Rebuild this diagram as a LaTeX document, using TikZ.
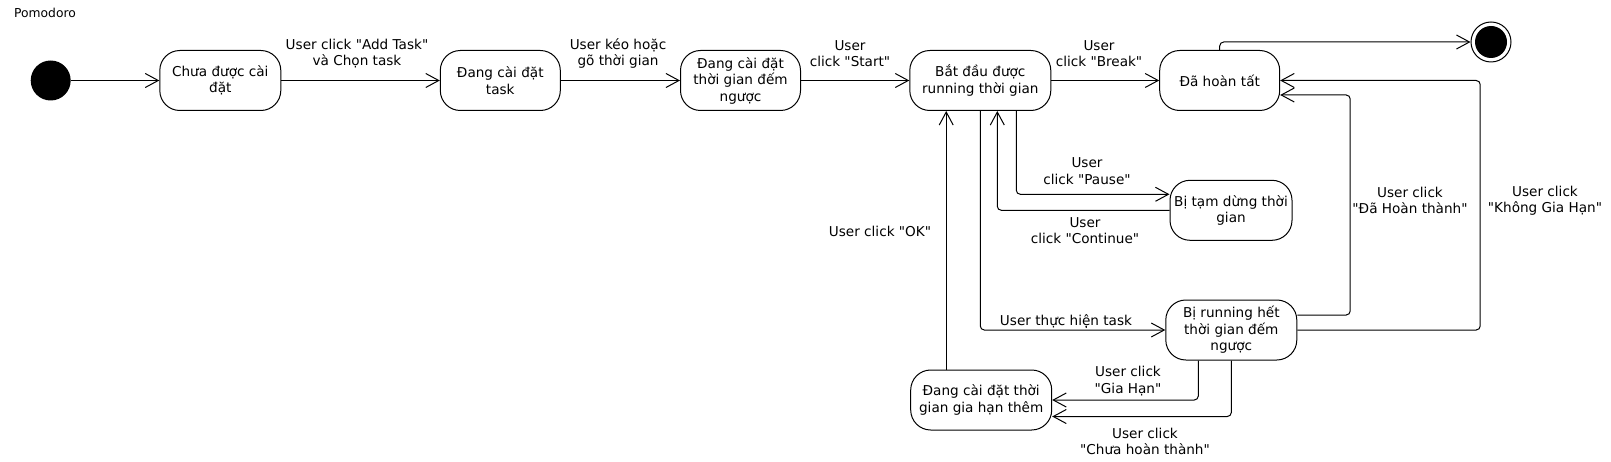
\documentclass[tikz,border=0pt]{standalone}
\usepackage{fontspec}
\setmainfont{DejaVu Sans}[Ligatures=TeXOff]
\usepackage{tikz}
\usetikzlibrary{arrows.meta, calc}

\tikzset{
  stbox/.style={draw, line width=1pt, rounded corners=20pt, minimum height=60pt, minimum width=120pt,
    inner sep=0pt, align=center, font=\fontsize{13.6}{16.5}\selectfont},
  lbl/.style={align=center, inner sep=0pt, font=\fontsize{13.6}{16.5}\selectfont},
  trn/.style={line width=1pt, rounded corners=4pt, -{Straight Barb[length=13pt,width=14pt]}},
}

\begin{document}
\begin{tikzpicture}[x=1pt, y=-1pt]
  \useasboundingbox (0,0) rectangle (1611,462);
  \node[anchor=west, inner sep=0pt, font=\fontsize{12.3}{14}\selectfont] (title) at (14,12.5) {Pomodoro};
  % start / end
  \node[circle, fill=black, minimum size=40pt, inner sep=0pt] (init) at (50.7,80.5) {};
  \node[circle, draw, line width=1pt, minimum size=40pt, inner sep=0pt] (fin) at (1491,42) {};
  \fill (fin.center) circle (16pt);
  % states
  \node[stbox, minimum width=121pt] (chua) at (220.3,80.5) {Chưa được cài\\đặt};
  \node[stbox] (task) at (500.3,80.5) {Đang cài đặt\\task};
  \node[stbox] (dem) at (740.5,80.5) {Đang cài đặt\\thời gian đếm\\ngược};
  \node[stbox, minimum width=141pt] (run) at (980.3,80.5) {Bắt đầu được\\running thời gian};
  \node[stbox] (xong) at (1219.7,80.5) {Đã hoàn tất};
  \node[stbox, minimum width=122pt] (dung) at (1231,210.3) {Bị tạm dừng thời\\gian};
  \node[stbox, minimum width=131pt] (het) at (1231.3,330) {Bị running hết\\thời gian đếm\\ngược};
  \node[stbox, minimum width=141pt] (giahan) at (981.2,400) {Đang cài đặt thời\\gian gia hạn thêm};
  % main row
  \draw[trn] (init) -- (chua);
  \draw[trn] (chua) -- (task);
  \draw[trn] (task) -- (dem);
  \draw[trn] (dem) -- (run);
  \draw[trn] (run) -- (xong);
  \draw[trn] (xong.north) |- (fin);
  % pause / continue
  \draw[trn] ([xshift=36pt]run.south) |- ([yshift=16pt]dung.west);
  \draw[trn] (dung.west) -| ([xshift=17pt]run.south);
  % countdown
  \draw[trn] (run.south) |- (het.west);
  \draw[trn] ([xshift=-35pt]giahan.north) -- ([xshift=-35pt]giahan.north |- run.south);
  \draw[trn] ([xshift=-33pt]het.south) |- (giahan.east);
  \draw[trn] (het.south) |- ([yshift=-16.5pt]giahan.east);
  \draw[trn] ([yshift=15pt]het.east) -| ([xshift=70pt,yshift=-14.5pt]xong.east) -- ([yshift=-14.5pt]xong.east);
  \draw[trn] (het.east) -| ([xshift=200pt]xong.east) -- (xong.east);
  % labels
  \node[lbl] (lAdd) at (357,53.5) {User click "Add Task"\\và Chọn task};
  \node[lbl] (lTime) at (618,53.5) {User kéo hoặc\\gõ thời gian};
  \node[lbl] (lStart) at (850,53.5) {User\\click "Start"};
  \node[lbl] (lBreak) at (1099,53.5) {User\\click "Break"};
  \node[lbl] (lPause) at (1087,171) {User\\click "Pause"};
  \node[lbl] (lCont) at (1085,230.5) {User\\click "Continue"};
  \node[lbl] (lDo) at (1066,321.7) {User thực hiện task};
  \node[lbl] (lOK) at (880,231) {User click "OK"};
  \node[lbl] (lExt) at (1128,381.3) {User click\\"Gia Hạn"};
  \node[lbl] (lNot) at (1145,441.3) {User click\\"Chưa hoàn thành"};
  \node[lbl] (lDone) at (1410,200.5) {User click\\"Đã Hoàn thành"};
  \node[lbl] (lNoExt) at (1545,200.5) {User click\\"Không Gia Hạn"};
\end{tikzpicture}
\end{document}
